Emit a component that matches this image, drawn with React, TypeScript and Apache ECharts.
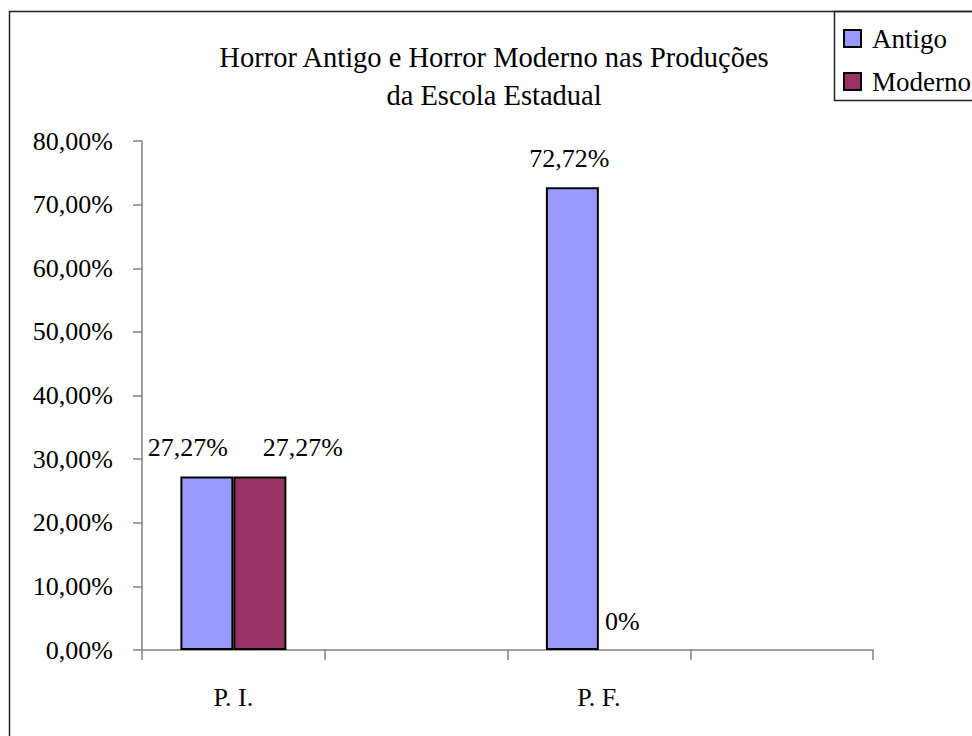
import React, { useEffect, useRef } from "react";
import * as echarts from "echarts";

const categories = ["P. I.", "", "P. F.", ""];
const antigoValues: (number | null)[] = [27.27, null, 72.72, null];
const modernoValues: (number | null)[] = [27.27, null, 0, null];
const seriesNames = ["Antigo", "Moderno"];
const titleLines = ["Horror Antigo e Horror Moderno nas Produções", "da Escola Estadual"];

const FONT = "'Liberation Serif', 'Times New Roman', serif";

const fmtPct = (v: number) => (v === 0 ? "0%" : v.toFixed(2).replace(".", ",") + "%");

export default function App() {
  const ref = useRef<HTMLDivElement>(null);
  useEffect(() => {
    if (!ref.current) return;
    const chart = echarts.init(ref.current, null, { renderer: "svg" });
    const antigoOffsets = [[-19, 0], [0, 0], [-3, 0], [0, 0]];
    const modernoOffsets = [[43, 0], [0, 0], [-3, 0], [0, 0]];
    const labelBase = {
      show: true,
      position: "top",
      distance: 16,
      fontFamily: FONT,
      fontSize: 26,
      color: "#000",
      formatter: (p: any) => fmtPct(p.value),
    };
    const barItem = (v: number | null, off: number[]) => ({
      value: v,
      label: { offset: off },
      ...(v === 0 ? { itemStyle: { borderWidth: 0 } } : {}),
    });
    chart.setOption({
      animation: false,
      backgroundColor: "#fff",
      grid: { left: 142, right: 99, top: 141, bottom: 86, containLabel: false },
      legend: {
        orient: "vertical",
        left: 843,
        top: 25,
        padding: 0,
        itemWidth: 17,
        itemHeight: 17,
        itemGap: 16,
        icon: "rect",
        itemStyle: { borderColor: "#000", borderWidth: 2 },
        textStyle: {
          fontFamily: FONT,
          fontSize: 27,
          color: "#000",
          lineHeight: 26,
          padding: [0, 0, 0, 6],
        },
        data: seriesNames,
      },
      xAxis: {
        type: "category",
        data: categories,
        boundaryGap: true,
        axisLine: { lineStyle: { color: "#808080", width: 1.5 } },
        axisTick: { show: true, length: 10, inside: false, lineStyle: { color: "#808080", width: 1.5 } },
        axisLabel: { interval: 0, margin: 34, fontFamily: FONT, fontSize: 26, color: "#000" },
      },
      yAxis: {
        type: "value",
        min: 0,
        max: 80,
        interval: 10,
        splitLine: { show: false },
        axisLine: { show: true, lineStyle: { color: "#808080", width: 1.5 } },
        axisTick: { show: true, length: 9, lineStyle: { color: "#808080", width: 1.5 } },
        axisLabel: {
          margin: 29,
          fontFamily: FONT,
          fontSize: 26,
          color: "#000",
          padding: [6, 0, 0, 0],
          formatter: (v: number) => v.toFixed(2).replace(".", ",") + "%",
        },
      },
      series: [
        {
          name: seriesNames[0],
          type: "bar",
          barWidth: 53,
          barGap: "0%",
          itemStyle: { color: "#9999FF", borderColor: "#000", borderWidth: 2 },
          label: labelBase,
          data: antigoValues.map((v, i) => barItem(v, antigoOffsets[i])),
        },
        {
          name: seriesNames[1],
          type: "bar",
          barWidth: 53,
          barGap: "0%",
          itemStyle: { color: "#993366", borderColor: "#000", borderWidth: 2 },
          label: labelBase,
          data: modernoValues.map((v, i) => barItem(v, modernoOffsets[i])),
        },
      ],
      graphic: [
        {
          type: "polyline",
          shape: { points: [[9.5, 760], [9.5, 11.5], [1000, 11.5]] },
          style: { stroke: "#222", lineWidth: 1.5, fill: "none" },
          silent: true,
        },
        {
          type: "polyline",
          shape: { points: [[1000, 11.5], [834.5, 11.5], [834.5, 100.5], [1000, 100.5]] },
          style: { stroke: "#222", lineWidth: 1.5, fill: "none" },
          silent: true,
        },
        {
          type: "text",
          x: 494,
          y: 76.5,
          style: {
            text: titleLines.join("\n"),
            fontFamily: FONT,
            fontSize: 28.5,
            lineHeight: 38,
            fill: "#000",
            align: "center",
            verticalAlign: "middle",
          },
          silent: true,
        },
      ],
    });
    return () => chart.dispose();
  }, []);
  return (
    <div
      ref={ref}
      style={{ position: "absolute", left: 0, top: 0, width: 972, height: 736 }}
    />
  );
}
